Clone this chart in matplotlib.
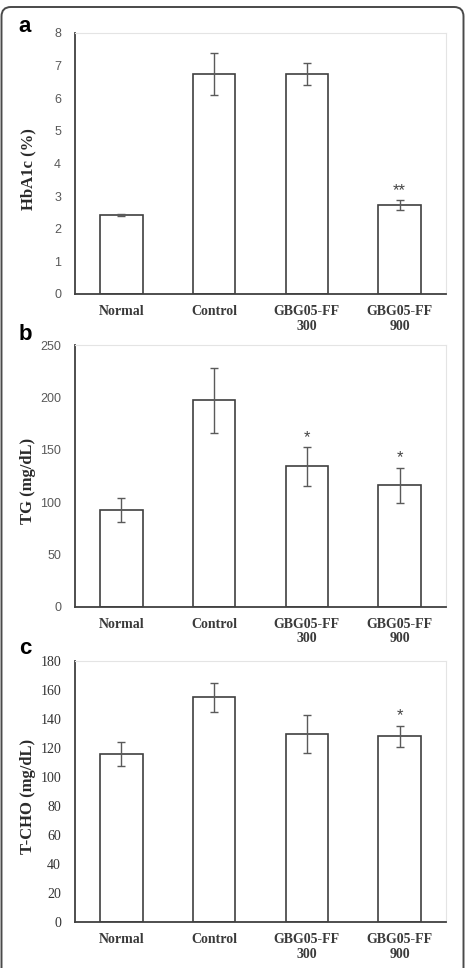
import matplotlib
matplotlib.use("Agg")
from matplotlib import pyplot as plt
from matplotlib.patches import FancyBboxPatch

groups = ["Normal", "Control", "GBG05-FF\n300", "GBG05-FF\n900"]

hba1c = [2.42, 6.75, 6.75, 2.73]
hba1c_err = [0.02, 0.65, 0.34, 0.16]
hba1c_sig = ["", "", "", "**"]

tg = [92.5, 197, 134, 115.8]
tg_err = [11.5, 31.5, 18.5, 17]
tg_sig = ["", "", "*", "*"]

tcho = [116, 154.7, 129.6, 128]
tcho_err = [8.2, 10, 13.3, 7.3]
tcho_sig = ["", "", "", "*"]

W, H = 469, 968
fig = plt.figure(figsize=(W / 100, H / 100), dpi=100)

# rounded frame around the whole figure
frame = FancyBboxPatch((1.5 / W, -0.05), 462 / W, (968 - 7) / H + 0.05,
                       boxstyle="round,pad=0,rounding_size=0.02",
                       transform=fig.transFigure, fill=False,
                       edgecolor="#4a4a4a", linewidth=1.4, mutation_aspect=W / H)
fig.patches.append(frame)

serif = ["Liberation Serif", "DejaVu Serif"]
sans = ["Liberation Sans", "DejaVu Sans"]


def panel(rect, values, errs, sig, ymax, ystep, ylabel, letter, letter_y, ytick_serif):
    ax = fig.add_axes(rect)
    x = range(len(groups))
    ax.bar(x, values, width=0.46, color="white", edgecolor="#404040", linewidth=1.2,
           yerr=errs, error_kw=dict(ecolor="#5a5a5a", elinewidth=1.0, capsize=3, capthick=1.0),
           zorder=2)
    ax.set_xlim(-0.5, len(groups) - 0.5)
    ax.set_ylim(0, ymax)
    ax.set_yticks(range(0, ymax + 1, ystep))
    ax.set_xticks(list(x))
    ax.set_xticklabels(groups, family=serif, fontsize=10, fontweight="bold",
                       color="#3a3a3a", linespacing=1.15)
    if ytick_serif:
        for t in ax.get_yticklabels():
            t.set_family(serif)
            t.set_fontsize(10)
            t.set_color("#333333")
    else:
        for t in ax.get_yticklabels():
            t.set_family(sans)
            t.set_fontsize(9)
            t.set_color("#595959")
    ax.tick_params(axis="y", length=0, pad=10)
    ax.tick_params(axis="x", length=0, pad=8)
    for s in ["left", "bottom"]:
        ax.spines[s].set_color("#404040")
        ax.spines[s].set_linewidth(1.3)
    for s in ["top", "right"]:
        ax.spines[s].set_color("#e4e4e4")
        ax.spines[s].set_linewidth(0.8)
    ax.set_ylabel(ylabel, family=serif, fontsize=12, fontweight="bold", color="#2a2a2a")
    ax.yaxis.set_label_coords(-39 / (rect[2] * W), 0.48)
    for i, s in enumerate(sig):
        if s:
            ax.text(i, values[i] + errs[i] + ymax * 0.008, s, ha="center", va="bottom",
                    fontsize=12, color="#444444", family=sans)
    fig.text(25 / W, 1 - letter_y / H, letter, fontsize=16, fontweight="bold",
             family=sans, ha="center", va="center")
    return ax


left = 75 / W
width = (446 - 75) / W


def rect(top, bottom):
    return [left, 1 - bottom / H, width, (bottom - top) / H]


panel(rect(33, 294), hba1c, hba1c_err, hba1c_sig, 8, 1, "HbA1c (%)", "a", 26, False)
panel(rect(345, 606.7), tg, tg_err, tg_sig, 250, 50, "TG (mg/dL)", "b", 334, False)
panel(rect(660.7, 922), tcho, tcho_err, tcho_sig, 180, 20, "T-CHO (mg/dL)", "c", 648, True)

fig.savefig("out.png", dpi=100)
